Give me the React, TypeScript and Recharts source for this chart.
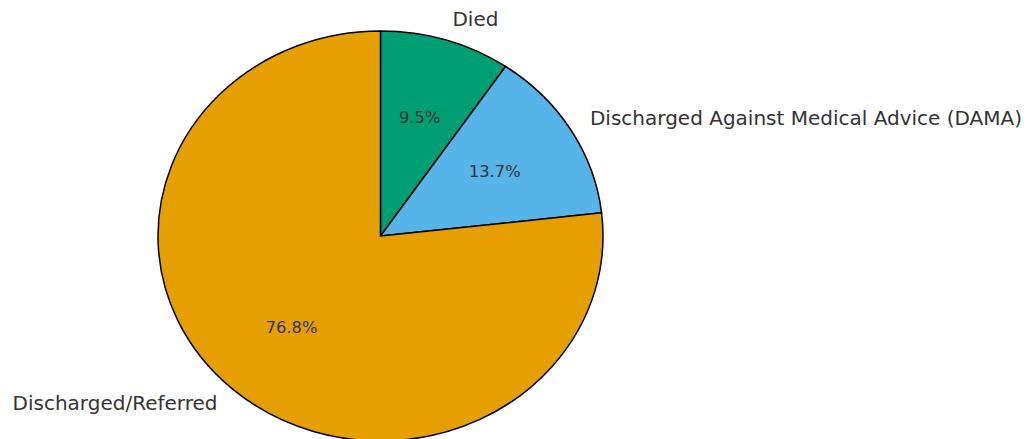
import React from 'react';
import { PieChart, Pie, Cell } from 'recharts';

const categories = ['Died', 'Discharged Against Medical Advice (DAMA)', 'Discharged/Referred'];
const values = [9.5, 13.7, 76.8];
const colors = ['#009E73', '#56B4E9', '#E69F00'];

const Y_SCALE = 205 / 222.5;
const RAD = Math.PI / 180;
const FONT = '"DejaVu Sans", sans-serif';

const data = categories.map((name, i) => ({ name, value: values[i] }));

function EllipseSector(props: any) {
  const { cx, cy, outerRadius, startAngle, endAngle, fill } = props;
  const rx = outerRadius;
  const ry = outerRadius * Y_SCALE;
  const x1 = cx + rx * Math.cos(startAngle * RAD);
  const y1 = cy - ry * Math.sin(startAngle * RAD);
  const x2 = cx + rx * Math.cos(endAngle * RAD);
  const y2 = cy - ry * Math.sin(endAngle * RAD);
  const delta = startAngle - endAngle;
  const large = Math.abs(delta) > 180 ? 1 : 0;
  const sweep = delta > 0 ? 1 : 0;
  const d = `M ${cx} ${cy} L ${x1} ${y1} A ${rx} ${ry} 0 ${large} ${sweep} ${x2} ${y2} Z`;
  return <path d={d} fill={fill} stroke="#000" strokeWidth={1.5} strokeLinejoin="round" />;
}

function renderLabel(props: any) {
  const { cx, cy, midAngle, outerRadius, percent, name } = props;
  const rx = outerRadius;
  const ry = outerRadius * Y_SCALE;
  const c = Math.cos(midAngle * RAD);
  const s = Math.sin(midAngle * RAD);
  const nx = cx + 1.1 * rx * c;
  const ny = cy - 1.1 * ry * s;
  const px = cx + 0.6 * rx * c;
  const py = cy - 0.6 * ry * s;
  return (
    <g>
      <text
        x={nx}
        y={ny - 1}
        textAnchor={nx >= cx ? 'start' : 'end'}
        dominantBaseline="central"
        fontFamily={FONT}
        fontSize={20}
        fill="#333"
      >
        {name}
      </text>
      <text
        x={px}
        y={py - 0.5}
        textAnchor="middle"
        dominantBaseline="central"
        fontFamily={FONT}
        fontSize={16.3}
        fill="#333"
      >
        {`${(percent * 100).toFixed(1)}%`}
      </text>
    </g>
  );
}

export default function App() {
  return (
    <div style={{ position: 'absolute', left: 0, top: 0, width: 1029, height: 439, background: '#fff' }}>
      <PieChart width={1029} height={439} margin={{ top: 0, right: 0, bottom: 0, left: 0 }}>
        <Pie
          data={data}
          dataKey="value"
          nameKey="name"
          cx={380.5}
          cy={236}
          innerRadius={0}
          outerRadius={222.5}
          startAngle={90}
          endAngle={-270}
          isAnimationActive={false}
          shape={EllipseSector}
          label={renderLabel}
          labelLine={false}
          stroke="#000"
        >
          {data.map((d, i) => (
            <Cell key={d.name} fill={colors[i]} />
          ))}
        </Pie>
      </PieChart>
    </div>
  );
}
